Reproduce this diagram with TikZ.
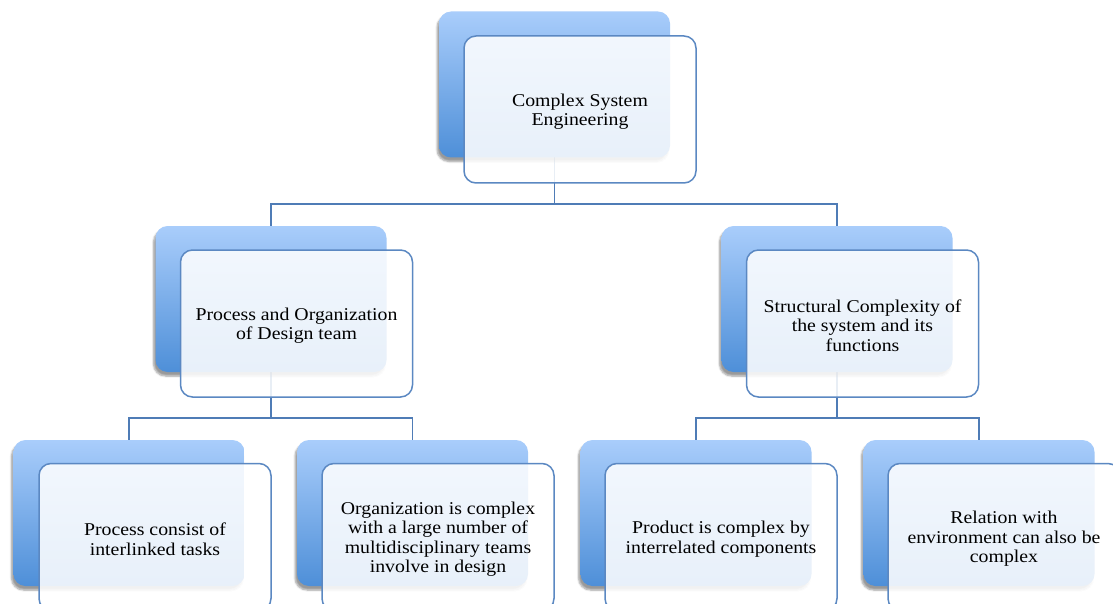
\documentclass[tikz,border=0pt]{standalone}
\usepackage{fontspec}
\setmainfont{Liberation Serif}[FakeStretch=1.1]
\usetikzlibrary{shadows.blur}
\definecolor{backtop}{HTML}{A9CDFB}
\definecolor{backbot}{HTML}{4E8FD8}
\definecolor{frameblue}{HTML}{5B88C2}
\definecolor{connblue}{HTML}{4F7CB6}
\tikzset{
  backbox/.style={rectangle, rounded corners=12pt, minimum width=231pt, minimum height=146pt,
    top color=backtop, bottom color=backbot, draw=none,
    blur shadow={shadow xshift=-2pt, shadow yshift=-4pt, shadow opacity=40, shadow blur steps=6}},
  frontbox/.style={rectangle, rounded corners=12pt, minimum width=232pt, minimum height=147pt,
    fill=white, fill opacity=0.87, draw=frameblue, draw opacity=1, line width=1.5pt},
  textlab/.style={align=center, font=\fontsize{18}{19.5}\selectfont, text=black, inner sep=0pt},
  conn/.style={draw=connblue, line width=1.4pt}
}
\begin{document}
\begin{tikzpicture}[x=1pt,y=-1pt]
\clip (0,0) rectangle (1113,604);
% back boxes (centers)
\coordinate (T) at (554.5,84.5);
\coordinate (L) at (271,299);
\coordinate (R) at (837,299);
\coordinate (B1) at (129,513);
\coordinate (B2) at (412.5,513);
\coordinate (B3) at (696,513);
\coordinate (B4) at (979,513);
% connectors
\draw[conn] (554.5,157) -- (554.5,204) -| (271,226);
\draw[conn] (554.5,204) -| (837,226);
\draw[conn] (271,372) -- (271,418) -| (129,440);
\draw[conn] (271,418) -| (412.5,440);
\draw[conn] (837,372) -- (837,418) -| (696,440);
\draw[conn] (837,418) -| (979,440);
% back boxes
\node[backbox] (tb) at (T) {};
\node[backbox] (lb) at (L) {};
\node[backbox] (rb) at (R) {};
\node[backbox] (b1b) at (B1) {};
\node[backbox] (b2b) at (B2) {};
\node[backbox] (b3b) at (B3) {};
\node[backbox] (b4b) at (B4) {};
% front boxes
\node[frontbox] (tf) at (580,109.5) {};
\node[frontbox] (lf) at (296.5,323.5) {};
\node[frontbox] (rf) at (862.5,323.5) {};
\node[frontbox] (b1f) at (155,537) {};
\node[frontbox] (b2f) at (438,537) {};
\node[frontbox] (b3f) at (721,537) {};
\node[frontbox] (b4f) at (1004,537) {};
% texts
\node[textlab] (tft) at ([yshift=-2pt]tf.center) {Complex System\\Engineering};
\node[textlab] (lft) at ([yshift=-2pt]lf.center) {Process and Organization\\of Design team};
\node[textlab] (rft) at ([yshift=-2pt]rf.center) {Structural Complexity of\\the system and its\\functions};
\node[textlab] (b1ft) at ([yshift=-2pt]b1f.center) {Process consist of\\interlinked tasks};
\node[textlab] (b2ft) at ([yshift=-2pt]b2f.center) {Organization is complex\\with a large number of\\multidisciplinary teams\\involve in design};
\node[textlab] (b3ft) at ([yshift=-2pt]b3f.center) {Product is complex by\\interrelated components};
\node[textlab] (b4ft) at ([yshift=-2pt]b4f.center) {Relation with\\environment can also be\\complex};
\end{tikzpicture}
\end{document}
